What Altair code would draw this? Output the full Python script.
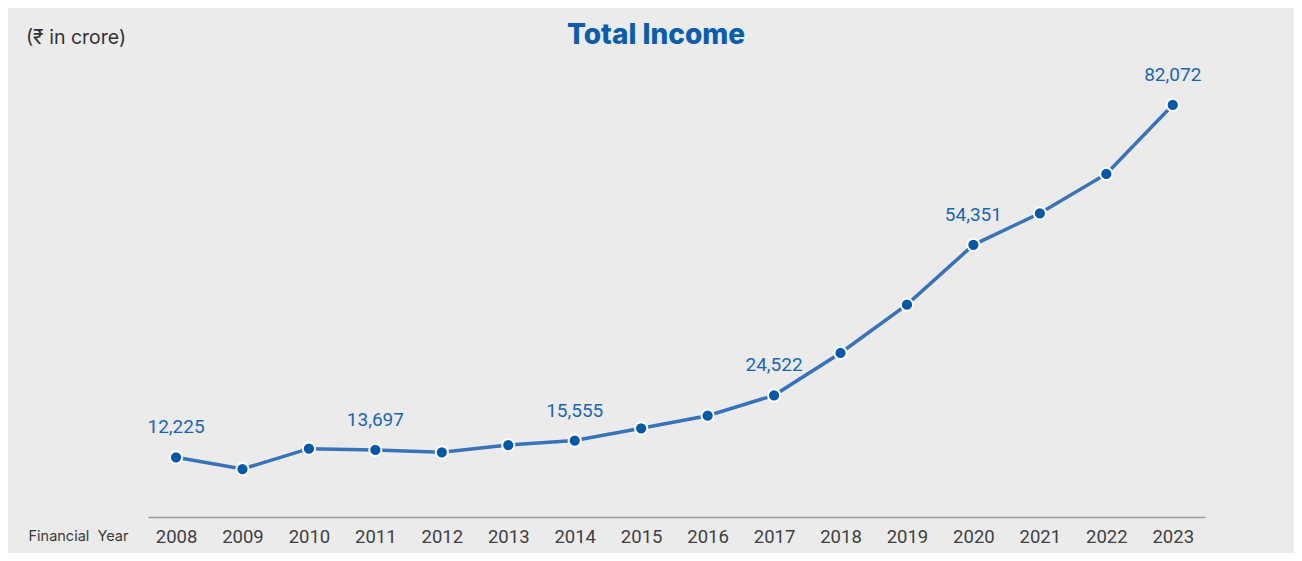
import altair as alt
import pandas as pd

years = [str(y) for y in range(2008, 2024)]
income = [12225, 9910, 13940, 13697, 13220, 14670, 15555, 17980,
          20480, 24522, 32910, 42490, 54351, 60610, 68400, 82072]
label_years = ["2008", "2011", "2014", "2017", "2020", "2023"]

df = pd.DataFrame({"year": years, "income": income})
lab = df[df["year"].isin(label_years)].copy()
lab["txt"] = lab["income"].map(lambda v: f"{v:,}")

FONT = "Roboto, 'Noto Sans', sans-serif"
FONT2 = "Inter, 'Noto Sans', sans-serif"

x = alt.X("year:O", scale=alt.Scale(type="point", padding=0.4535, align=0.465),
          axis=alt.Axis(title="Financial\u00a0\u00a0Year", titleAngle=0, titleAlign="left",
                        titleBaseline="middle", titleX=-120, titleY=19,
                        titleFontSize=14.5, titleFontWeight="normal", titleColor="#3a3a3a",
                        titleFont=FONT2,
                        labelFont=FONT, labelFontSize=18.5, labelColor="#404040",
                        labelAngle=0, labelPadding=10, ticks=False,
                        domainColor="#9a9a9a", domainWidth=1.5, grid=False))
y = alt.Y("income:Q", scale=alt.Scale(domain=[400, 90000], zero=False, nice=False),
          axis=None)

base = alt.Chart(df)
line = base.mark_line(color="#3872b9", strokeWidth=3.5).encode(x=x, y=y)
pts = base.mark_point(filled=True, fill="#0557a8", stroke="white", strokeWidth=2,
                      size=150, opacity=1).encode(x=x, y=y)
labels = alt.Chart(lab).mark_text(font=FONT, fontSize=19, color="#1a66b3",
                                  baseline="middle", dy=-30).encode(x=x, y=y, text="txt:N")

title = alt.Chart(pd.DataFrame({"t": ["Total Income"]})).mark_text(
    font=FONT2, fontSize=28, fontWeight=800, color="#0a5cad",
    align="center", baseline="middle").encode(
    text="t:N", x=alt.value(508), y=alt.value(-29))
unit = alt.Chart(pd.DataFrame({"t": ["(₹ in crore)"]})).mark_text(
    font=FONT2, fontSize=19.5, color="#333333",
    align="left", baseline="middle").encode(
    text="t:N", x=alt.value(-122), y=alt.value(-27))

chart = alt.layer(line, pts, labels, title, unit).properties(
    width=1057, height=452, background="#ebebeb",
    autosize=alt.AutoSizeParams(type="none"),
    padding={"left": 140, "top": 57, "right": 89, "bottom": 36},
).configure_view(stroke=None)

chart.save("out.html", embed_options={"renderer": "svg", "actions": False})
